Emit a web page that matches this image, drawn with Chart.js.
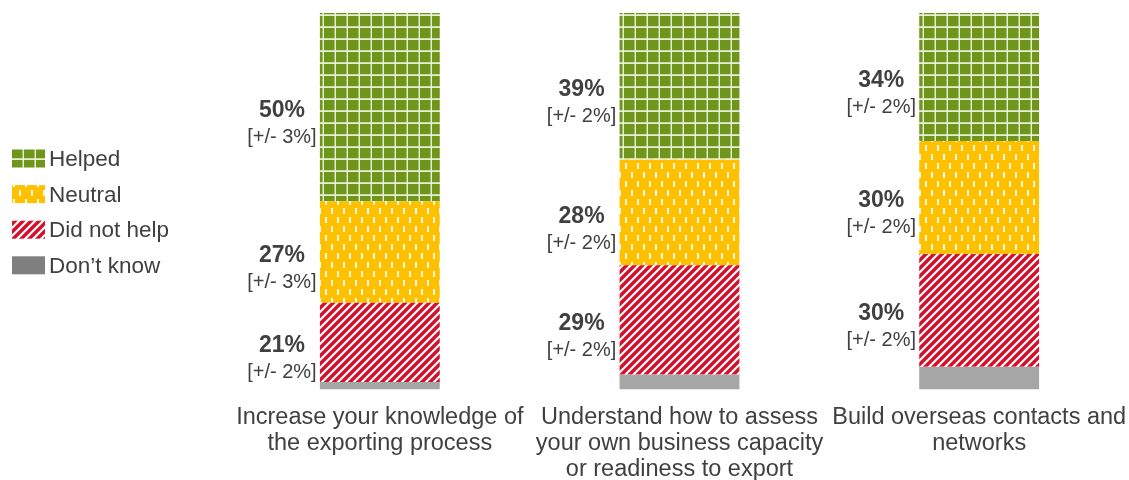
<!DOCTYPE html>
<html>
<head>
<meta charset="utf-8">
<script src="https://cdn.jsdelivr.net/npm/chart.js@4.4.1/dist/chart.umd.min.js"></script>
<style>
  body { margin: 0; background: #fff; }
  canvas { display: block; }
</style>
</head>
<body>
<canvas id="helpChart" width="1129" height="480"></canvas>
<script>
// survey results, percent of respondents
const categories = [
    ['Increase your knowledge of', 'the exporting process'],
    ['Understand how to assess', 'your own business capacity', 'or readiness to export'],
    ['Build overseas contacts and', 'networks']
];
const helped = [50, 39, 34];
const neutral = [27, 28, 30];
const didNotHelp = [21, 29, 30];
const dontKnow = [2, 4, 6];
// margin of error shown under each value
const helpedMoe = [3, 2, 2];
const neutralMoe = [3, 2, 2];
const didNotHelpMoe = [2, 2, 2];

const textColor = '#404040';
const fontFamily = "'Liberation Sans', Arial, sans-serif";

function makeTile(w, h, paint) {
    const c = document.createElement('canvas');
    c.width = w;
    c.height = h;
    paint(c.getContext('2d'));
    return document.createElement('canvas').getContext('2d').createPattern(c, 'repeat');
}

// green with a light grid
const gridFill = makeTile(12, 12, g => {
    g.fillStyle = '#6f961b';
    g.fillRect(0, 0, 12, 12);
    g.fillStyle = 'rgba(240,246,228,0.9)';
    g.fillRect(10.5, 0, 1.8, 12);
    g.fillRect(0, 2.2, 12, 1.8);
});

// amber with short white dashes
const dashFill = makeTile(12, 18, g => {
    g.fillStyle = '#ffc000';
    g.fillRect(0, 0, 12, 18);
    g.fillStyle = 'rgba(255,252,240,0.95)';
    g.fillRect(1, 1, 2, 6);
    g.fillRect(7, 10, 2, 6);
});

// red with diagonal white stripes
const stripeFill = makeTile(8, 8, g => {
    g.fillStyle = '#d5102b';
    g.fillRect(0, 0, 8, 8);
    g.strokeStyle = '#ffffff';
    g.lineWidth = 2.2;
    g.beginPath();
    g.moveTo(-2, 10); g.lineTo(10, -2);
    g.moveTo(-6, 6); g.lineTo(6, -6);
    g.moveTo(2, 14); g.lineTo(14, 2);
    g.stroke();
});

const moeByDataset = [null, didNotHelpMoe, neutralMoe, helpedMoe];

// value and margin of error to the left of each segment
const segmentLabels = {
    id: 'segmentLabels',
    afterDatasetsDraw(chart) {
        const ctx = chart.ctx;
        ctx.save();
        ctx.fillStyle = textColor;
        ctx.textAlign = 'center';
        ctx.textBaseline = 'alphabetic';
        chart.data.datasets.forEach((ds, di) => {
            const moe = moeByDataset[di];
            if (!moe) return;
            chart.getDatasetMeta(di).data.forEach((bar, i) => {
                const x = bar.x - bar.width / 2 - 38;
                const mid = (bar.y + bar.base) / 2;
                ctx.font = 'bold 23px ' + fontFamily;
                ctx.fillText(ds.data[i] + '%', x, mid + 10);
                ctx.font = '20px ' + fontFamily;
                ctx.fillText('[+/- ' + moe[i] + '%]', x, mid + 36);
            });
        });
        ctx.restore();
    }
};

// legend on the left, top item is the top of the stack
const sideLegend = {
    id: 'sideLegend',
    afterDraw(chart) {
        const ctx = chart.ctx;
        const items = chart.data.datasets.slice().reverse();
        ctx.save();
        ctx.font = '22.5px ' + fontFamily;
        ctx.textBaseline = 'middle';
        ctx.textAlign = 'left';
        items.forEach((ds, k) => {
            const cy = 158.5 + k * 35.6;
            ctx.fillStyle = ds.legendFill || ds.backgroundColor;
            ctx.fillRect(12, cy - 9, 33, 18);
            ctx.fillStyle = textColor;
            ctx.fillText(ds.label, 49, cy + 1.5);
        });
        ctx.restore();
    }
};

const ctx = document.getElementById('helpChart').getContext('2d');
new Chart(ctx, {
    type: 'bar',
    data: {
        labels: categories,
        datasets: [
            { label: 'Don\u2019t know', data: dontKnow, backgroundColor: '#a6a6a6', legendFill: '#7f7f7f' },
            { label: 'Did not help', data: didNotHelp, backgroundColor: stripeFill },
            { label: 'Neutral', data: neutral, backgroundColor: dashFill },
            { label: 'Helped', data: helped, backgroundColor: gridFill }
        ]
    },
    options: {
        responsive: false,
        animation: false,
        events: [],
        layout: {
            padding: { left: 230, top: 13, right: 0, bottom: -17 }
        },
        datasets: {
            bar: {
                barPercentage: 0.4,
                categoryPercentage: 1.0,
                borderWidth: 0
            }
        },
        plugins: {
            legend: { display: false },
            tooltip: { enabled: false }
        },
        scales: {
            x: {
                stacked: true,
                grid: { display: false, drawTicks: false },
                border: { display: false },
                // keep the category slots evenly spread to the canvas edge
                afterFit(scale) {
                    scale.paddingLeft = 0;
                    scale.paddingRight = 0;
                },
                ticks: {
                    color: textColor,
                    padding: 15,
                    maxRotation: 0,
                    autoSkip: false,
                    font: { family: fontFamily, size: 23.5, lineHeight: 1.1 }
                }
            },
            y: {
                stacked: true,
                display: false,
                min: 0,
                max: 100
            }
        }
    },
    plugins: [segmentLabels, sideLegend]
});
</script>
</body>
</html>
